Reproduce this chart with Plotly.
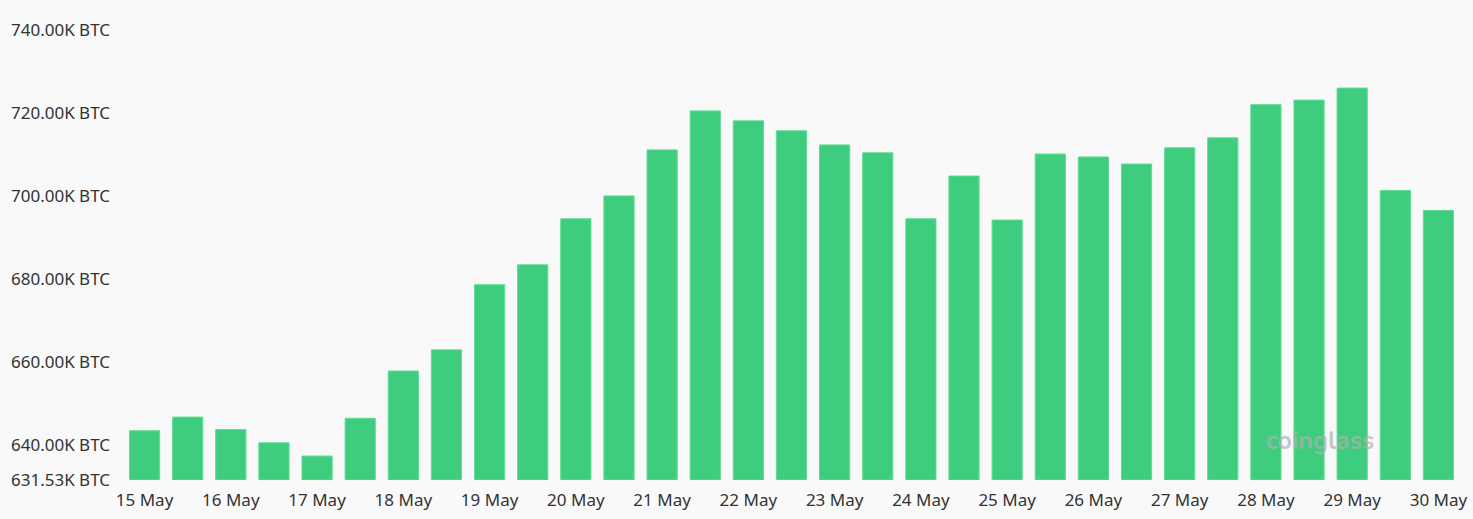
import plotly.graph_objects as go

# 12-hourly periods, 15 May to 30 May
periods = []
days = list(range(15, 31))
for d in days:
    periods.append(f"{d} May 00:00")
    if d != 30:
        periods.append(f"{d} May 12:00")

# values in thousands of BTC
values = [643.4, 646.7, 643.7, 640.5, 637.3, 646.4, 657.8, 662.9, 678.6, 683.4,
          694.5, 700.0, 711.1, 720.5, 718.1, 715.7, 712.3, 710.4, 694.5, 704.8,
          694.2, 710.1, 709.4, 707.7, 711.6, 714.0, 722.0, 723.1, 726.0, 701.3,
          696.5]

tick_periods = [f"{d} May 00:00" for d in days]
tick_labels = [f"{d} May" for d in days]

y_min = 631.53
y_ticks = [631.53, 640, 660, 680, 700, 720, 740]
y_tick_labels = ["631.53K BTC", "640.00K BTC", "660.00K BTC", "680.00K BTC",
                 "700.00K BTC", "720.00K BTC", "740.00K BTC"]

fig = go.Figure()
fig.add_trace(go.Bar(
    x=periods, y=[v - y_min for v in values],
    base=y_min,
    marker=dict(color="#3ecd7e", line=dict(color="#5fdc95", width=1)),
    hovertemplate="%{x}<br>%{customdata:.2f}K BTC<extra></extra>",
    customdata=values,
))

fig.update_layout(
    width=1473, height=519,
    paper_bgcolor="#f9f9f9", plot_bgcolor="#f9f9f9",
    margin=dict(l=123, r=13, t=30, b=39),
    bargap=0.3,
    showlegend=False,
    font=dict(family="Noto Sans, Roboto, sans-serif", size=17, color="#333333"),
    xaxis=dict(
        type="category",
        tickvals=tick_periods, ticktext=tick_labels,
        showgrid=False, zeroline=False, showline=False,
        ticks="", ticklabelstandoff=8, automargin=False,
        tickfont=dict(size=17, color="#333333"),
        range=[-0.5, len(periods) - 0.5],
    ),
    yaxis=dict(
        range=[y_min, 740],
        tickvals=y_ticks, ticktext=y_tick_labels,
        showgrid=False, zeroline=False, showline=False,
        ticks="", ticklabelstandoff=12, automargin=False,
        tickfont=dict(size=17, color="#333333"),
    ),
    annotations=[dict(
        x=0.895, y=0.087, xref="paper", yref="paper",
        xanchor="center", yanchor="middle",
        text="<b>coinglass</b>", showarrow=False,
        font=dict(family="Nunito, Lato, sans-serif", size=25, color="rgba(175,175,175,0.7)"),
    )],
)

fig.write_html("out.html", config={"displayModeBar": False},
               post_script="document.body.style.margin='0';document.body.style.background='#f9f9f9';")
